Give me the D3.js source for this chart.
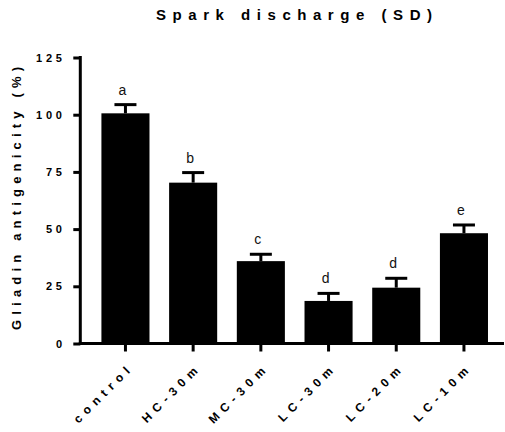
<!DOCTYPE html>
<html>
<head>
<meta charset="utf-8">
<script src="https://cdn.jsdelivr.net/npm/d3@7"></script>
<style>
  html, body { margin: 0; padding: 0; background: #fff; }
  svg { display: block; font-family: Arial, "Liberation Sans", Helvetica, sans-serif; }
</style>
</head>
<body>
<svg id="chart" width="505" height="432"></svg>
<script>
// Gliadin antigenicity after spark discharge treatments
const groups = ["control", "HC-30m", "MC-30m", "LC-30m", "LC-20m", "LC-10m"];
const means = [100.6, 70.3, 36.0, 18.6, 24.4, 48.2];
const errors = [3.8, 4.4, 3.0, 3.3, 4.1, 3.6];
const letters = ["a", "b", "c", "d", "d", "e"];
const yTicks = [0, 25, 50, 75, 100, 125];

const svg = d3.select("#chart");

const y = d3.scaleLinear().domain([0, 125]).range([343.5, 57.5]);
const x = d3.scaleBand()
  .domain(groups)
  .range([91.6, 497.8])
  .paddingInner(0.29)
  .paddingOuter(0.145);

const axisX0 = 80.3;
const axisX1 = 504;

// Spread a text's letters so its visible run spans `span` pixels
function spreadTo(sel, span) {
  const node = sel.node();
  const n = sel.text().length;
  const natural = node.getComputedTextLength();
  const s = (span - natural) / (n - 1);
  sel.style("letter-spacing", s + "px");
  return s;
}

// Bars
svg.append("g").selectAll("rect")
  .data(groups)
  .join("rect")
  .attr("x", d => x(d))
  .attr("y", (d, i) => y(means[i]))
  .attr("width", x.bandwidth())
  .attr("height", (d, i) => y(0) - y(means[i]))
  .attr("fill", "#000");

// Error bars (upper only)
const eb = svg.append("g").attr("stroke", "#000").attr("stroke-width", 3);
groups.forEach((g, i) => {
  const cx = x(g) + x.bandwidth() / 2;
  eb.append("line")
    .attr("x1", cx).attr("x2", cx)
    .attr("y1", y(means[i])).attr("y2", y(means[i] + errors[i]));
  eb.append("line")
    .attr("x1", cx - 11).attr("x2", cx + 11)
    .attr("y1", y(means[i] + errors[i])).attr("y2", y(means[i] + errors[i]));
});

// Significance letters
svg.append("g").selectAll("text")
  .data(groups)
  .join("text")
  .attr("x", d => x(d) + x.bandwidth() / 2 - 3)
  .attr("y", (d, i) => y(means[i] + errors[i]) - 10)
  .attr("text-anchor", "middle")
  .attr("font-size", 14)
  .attr("fill", "#111")
  .text((d, i) => letters[i]);

// Y axis
const yAxis = d3.axisLeft(y)
  .tickValues(yTicks)
  .tickSize(7)
  .tickPadding(11)
  .tickSizeOuter(0);
const gy = svg.append("g")
  .attr("transform", `translate(${axisX0},0)`)
  .call(yAxis);
gy.select(".domain").attr("stroke-width", 3).attr("d", `M0,${y(125) - 1.5}V${y(0) + 1.5}`);
gy.selectAll(".tick line").attr("stroke-width", 3);
gy.selectAll(".tick text")
  .attr("font-size", 11)
  .attr("font-weight", "bold")
  .attr("fill", "#000")
  .style("letter-spacing", "3.8px")
  .attr("dx", "3.5")
  .attr("font-family", "Arial, 'Liberation Sans', sans-serif");

// X axis
const xAxis = d3.axisBottom(x).tickSize(8).tickSizeOuter(0).tickFormat("");
const gx = svg.append("g")
  .attr("transform", `translate(0,${y(0)})`)
  .call(xAxis);
gx.select(".domain").attr("stroke-width", 3).attr("d", `M${axisX0 - 1.5},0H${axisX1}`);
gx.selectAll(".tick line").attr("stroke-width", 3);

// Rotated category labels
svg.append("g").selectAll("text")
  .data(groups)
  .join("text")
  .attr("transform", d => `translate(${x(d) + x.bandwidth() / 2 + 9},${368}) rotate(-45)`)
  .attr("text-anchor", "end")
  .attr("font-size", 12)
  .attr("font-weight", "bold")
  .attr("fill", "#000")
  .style("letter-spacing", "5.5px")
  .text(d => d);

// Y axis title: visible run from y=330 up to y=67
const yTitle = svg.append("text")
  .attr("text-anchor", "start")
  .attr("font-size", 13)
  .attr("font-weight", "bold")
  .attr("fill", "#000")
  .text("Gliadin antigenicity (%)");
spreadTo(yTitle, 263);
yTitle.attr("transform", "translate(20.5,330) rotate(-90)");

// Chart title: visible run from x=156 to x=432
const title = svg.append("text")
  .attr("text-anchor", "start")
  .attr("font-size", 15)
  .attr("font-weight", "bold")
  .attr("fill", "#000")
  .text("Spark discharge (SD)");
spreadTo(title, 276);
title.attr("x", 156).attr("y", 20);
</script>
</body>
</html>
